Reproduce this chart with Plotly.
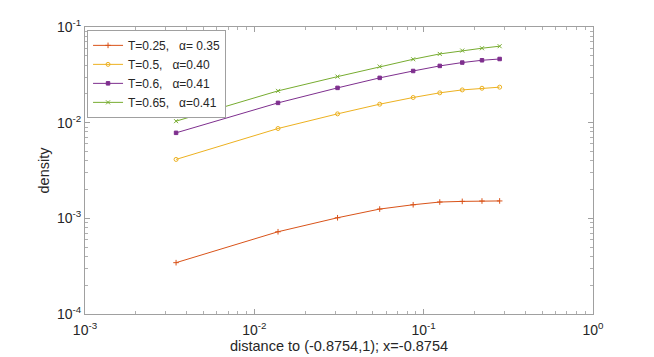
import plotly.graph_objects as go

x_dist = [0.00345, 0.0138, 0.0310, 0.0550, 0.0867, 0.1245, 0.169, 0.221, 0.281]

dens_T025 = [0.000344, 0.000724, 0.001014, 0.00125, 0.001387, 0.00148, 0.001504, 0.001517, 0.00152]
dens_T05 = [0.00413, 0.00869, 0.01236, 0.01560, 0.01833, 0.0205, 0.0220, 0.0229, 0.0235]
dens_T06 = [0.00783, 0.0161, 0.0231, 0.0294, 0.0347, 0.0392, 0.0425, 0.0449, 0.0463]
dens_T065 = [0.01037, 0.0215, 0.0303, 0.0386, 0.046, 0.0523, 0.0567, 0.060, 0.063]

series_names = ["T=0.25,   α= 0.35", "T=0.5,   α=0.40", "T=0.6,   α=0.41", "T=0.65,   α=0.41"]
series_colors = ["#D95319", "#EDB120", "#7E2F8E", "#77AC30"]
series_symbols = ["cross-thin", "circle-open", "square", "x-thin"]

x_tickvals = [1e-3, 1e-2, 1e-1, 1]
x_ticktext = ["10<sup>-3</sup>", "10<sup>-2</sup>", "10<sup>-1</sup>", "10<sup>0</sup>"]
y_tickvals = [1e-4, 1e-3, 1e-2, 1e-1]
y_ticktext = ["10<sup>-4</sup>", "10<sup>-3</sup>", "10<sup>-2</sup>", "10<sup>-1</sup>"]

FONT = "Liberation Sans, Arial, sans-serif"

fig = go.Figure()
for name, ys, col, sym in zip(series_names, [dens_T025, dens_T05, dens_T06, dens_T065], series_colors, series_symbols):
    fig.add_trace(go.Scatter(
        x=x_dist, y=ys, name=name, mode="lines+markers",
        line=dict(color=col, width=1),
        marker=dict(symbol=sym, size=4 if sym != "square" else 3.5, color=col,
                    line=dict(color=col, width=1)),
    ))

axis_common = dict(
    type="log", showgrid=False, zeroline=False, automargin=False,
    showline=True, linecolor="#a0a0a0", linewidth=1, mirror="allticks",
    ticks="inside", ticklen=5, tickcolor="#a0a0a0",
    tickfont=dict(family=FONT, size=14, color="#262626"),
    minor=dict(ticks="inside", ticklen=3, tickcolor="#b0b0b0", dtick="D1"),
)

# page body has an 8px margin, so the figure is sized to fit the 654x357 window
fig.update_layout(
    width=646, height=349,
    margin=dict(l=77, r=61, t=19, b=43),
    paper_bgcolor="white", plot_bgcolor="white",
    font=dict(family=FONT, size=14, color="#262626"),
    xaxis=dict(axis_common, range=[-3, 0], tickvals=x_tickvals, ticktext=x_ticktext,
               ticklabelstandoff=3,
               title=dict(text="distance to (-0.8754,1); x=-0.8754", standoff=4,
                          font=dict(size=14.5, color="#262626"))),
    yaxis=dict(axis_common, range=[-4, -1], tickvals=y_tickvals, ticktext=y_ticktext),
    annotations=[dict(text="density", xref="paper", yref="paper", x=0, y=0.5,
                      xanchor="center", yanchor="middle", xshift=-42, textangle=-90,
                      showarrow=False, font=dict(size=14.5, color="#262626"))],
    legend=dict(x=0.004, y=0.99, xanchor="left", yanchor="top",
                bgcolor="white", bordercolor="#a0a0a0", borderwidth=1,
                font=dict(size=12, color="#262626"),
                tracegroupgap=0, itemwidth=30),
    showlegend=True,
)

fig.write_html("out.html")
